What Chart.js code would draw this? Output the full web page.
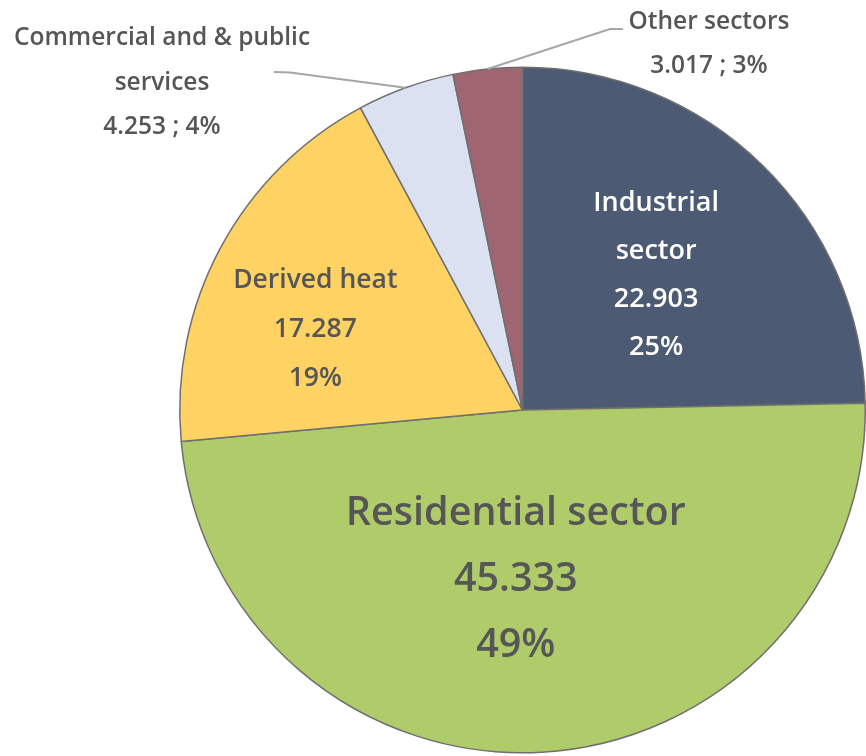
<!DOCTYPE html>
<html>
<head>
<meta charset="utf-8">
<script src="https://cdn.jsdelivr.net/npm/chart.js@4.4.1/dist/chart.umd.min.js"></script>
<style>
html,body{margin:0;padding:0;background:#fff;}
#wrap{width:866px;height:756px;position:relative;}
</style>
</head>
<body>
<div id="wrap"><canvas id="c" width="866" height="756"></canvas></div>
<script>
// ---- data ----
const categories = ["Industrial sector", "Residential sector", "Derived heat", "Commercial and & public services", "Other sectors"];
const values = [22903, 45333, 17287, 4253, 3017];
const percents = [25, 49, 19, 4, 3];
const sliceColors = ["#4c5b73", "#afcb6a", "#fed263", "#dce1f1", "#9f6570"];

function fmt(v){ return String(v).replace(/\B(?=(\d{3})+(?!\d))/g, "."); }

const FONT = "'Open Sans', 'Noto Sans', sans-serif";
const TEXT = "#565656";

// label layout per slice (style/positions only)
const labelCfg = [
  {type:"inside", lines:["Industrial","sector"], frac:0.557, dx:0, dy:2, size:27, gap:48, color:"#ffffff"},
  {type:"inside", lines:["Residential sector"], frac:0.485, dx:-16, dy:4, size:39.5, gap:66, color:TEXT},
  {type:"inside", lines:["Derived heat"], frac:0.65, dx:-11, dy:25, size:26.5, gap:49, color:TEXT},
  {type:"outside", lines:["Commercial and & public","services"], sep:" ; ", tx:162, ty:38.5, gap:44.5, size:24.5, color:TEXT,
     leader:[[274,72],[290,72.5]]},
  {type:"outside", lines:["Other sectors"], sep:" ; ", tx:709, ty:22.5, gap:44, size:24.5, color:TEXT,
     leader:[[623,29],[610,29]]}
];

const labelPlugin = {
  id: "sliceLabels",
  afterDatasetsDraw(chart){
    const ctx = chart.ctx;
    const meta = chart.getDatasetMeta(0);
    meta.data.forEach((arc, i) => {
      const cfg = labelCfg[i];
      const p = arc.getProps(["x","y","startAngle","endAngle","outerRadius"], true);
      const mid = (p.startAngle + p.endAngle)/2;
      ctx.save();
      ctx.textAlign = "center";
      ctx.textBaseline = "middle";
      ctx.fillStyle = cfg.color;
      if (cfg.type === "inside") {
        const lines = cfg.lines.concat([fmt(values[i]), percents[i] + "%"]);
        const cx = p.x + Math.cos(mid)*p.outerRadius*cfg.frac + cfg.dx;
        const cy = p.y + Math.sin(mid)*p.outerRadius*cfg.frac + cfg.dy;
        ctx.font = "600 " + cfg.size + "px " + FONT;
        const y0 = cy - (lines.length-1)*cfg.gap/2;
        lines.forEach((t, k) => ctx.fillText(t, cx, y0 + k*cfg.gap));
      } else {
        const ex = p.x + Math.cos(mid)*p.outerRadius;
        const ey = p.y + Math.sin(mid)*p.outerRadius;
        ctx.strokeStyle = "#a6a6a6";
        ctx.lineWidth = 2;
        ctx.beginPath();
        ctx.moveTo(ex, ey);
        for (let k = cfg.leader.length-1; k >= 0; k--) ctx.lineTo(cfg.leader[k][0], cfg.leader[k][1]);
        ctx.stroke();
        const lines = cfg.lines.concat([fmt(values[i]) + cfg.sep + percents[i] + "%"]);
        ctx.font = "600 " + cfg.size + "px " + FONT;
        lines.forEach((t, k) => ctx.fillText(t, cfg.tx, cfg.ty + k*cfg.gap));
      }
      ctx.restore();
    });
  }
};

new Chart(document.getElementById("c"), {
  type: "pie",
  data: {
    labels: categories,
    datasets: [{
      data: values,
      backgroundColor: sliceColors,
      borderColor: "#6f6f6f",
      borderWidth: 1.5
    }]
  },
  options: {
    responsive: false,
    animation: false,
    layout: { padding: { left: 179, right: 0, top: 65, bottom: 1 } },
    plugins: { legend: { display: false }, tooltip: { enabled: false } }
  },
  plugins: [labelPlugin]
});
</script>
</body>
</html>
